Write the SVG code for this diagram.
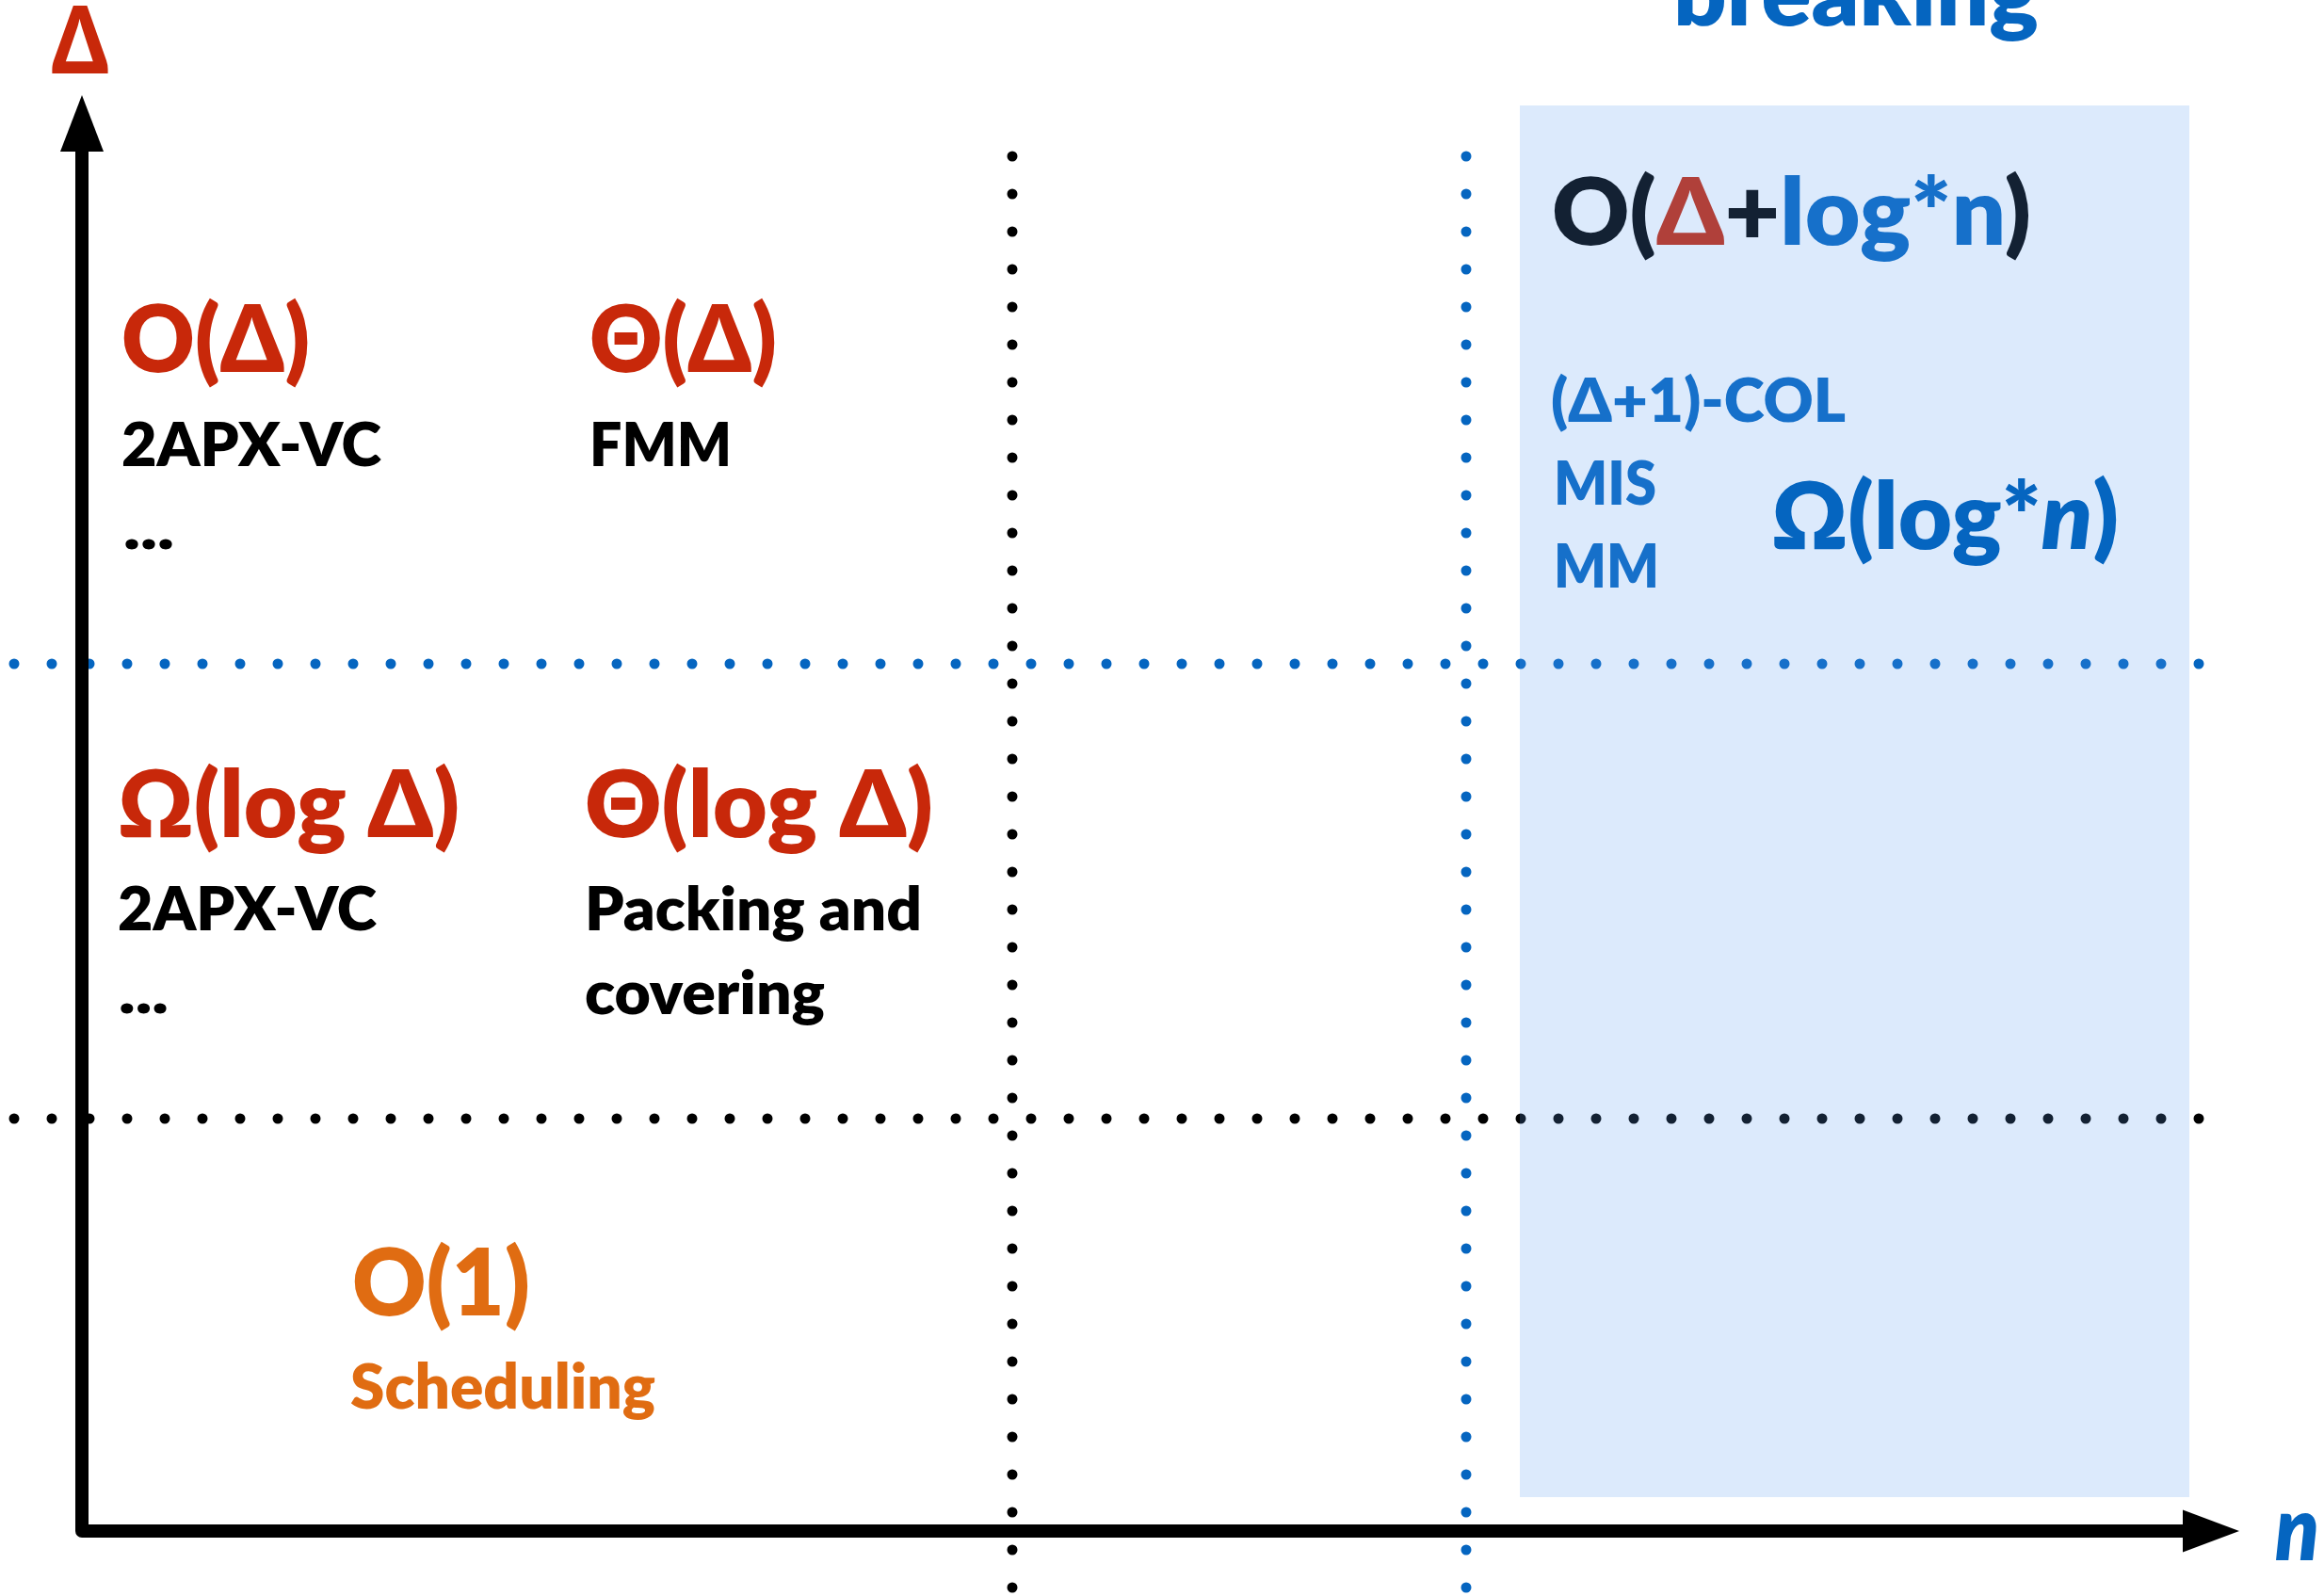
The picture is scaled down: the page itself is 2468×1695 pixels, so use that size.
<svg xmlns="http://www.w3.org/2000/svg" width="2468" height="1695" viewBox="0 0 2468 1695">
  <style>
    text { font-family: "Lato", "Noto Sans", "Open Sans", sans-serif; font-weight: 800; }
    .big { font-size: 98px; }
    .small { font-size: 65px; }
    .red { fill: #C8280A; }
    .black { fill: #000000; }
    .orange { fill: #E06C12; }
    .blue { fill: #0565C0; }
    .dots { fill: none; stroke-width: 11; stroke-linecap: round; stroke-dasharray: 0 40; }
    .dots-black { stroke: #000000; }
    .dots-blue { stroke: #0565C0; }
    .axis { fill: none; stroke: #000000; stroke-width: 14; stroke-linejoin: round; }
    .head { fill: #000000; }
  </style>

  <rect width="2468" height="1695" fill="#FFFFFF"/>

  <!-- dotted boundaries between the regimes -->
  <g id="grid">
    <path class="dots dots-black" d="M1075 166 V1690"/>
    <path class="dots dots-blue" d="M1557 166 V1690"/>
    <path class="dots dots-blue" d="M15 705 H2336"/>
    <path class="dots dots-black" d="M15 1188 H2336"/>
  </g>

  <!-- axes -->
  <g id="axes">
    <path class="axis" d="M87 160 V1626 H2320"/>
    <polygon class="head" points="87,101 110,161 64,161"/>
    <polygon class="head" points="2378,1626 2318,1603.5 2318,1648.5"/>
  </g>

  <g id="label-delta-axis">
    <text class="big red" x="55" y="78" textLength="60" lengthAdjust="spacingAndGlyphs">Δ</text>
  </g>
  <g id="label-n-axis">
    <text class="blue" x="2416" y="1657" font-size="95" font-style="italic" textLength="47" lengthAdjust="spacingAndGlyphs">n</text>
  </g>

  <!-- top row: linear in Delta -->
  <g id="cell-o-delta">
    <text class="big red" x="129" y="395" textLength="200" lengthAdjust="spacingAndGlyphs">O(Δ)</text>
    <text class="small black" x="129" y="495" textLength="276" lengthAdjust="spacingAndGlyphs">2APX-VC</text>
    <text class="small black" x="131" y="583" textLength="54" lengthAdjust="spacingAndGlyphs">...</text>
  </g>
  <g id="cell-theta-delta">
    <text class="big red" x="626" y="395" textLength="199" lengthAdjust="spacingAndGlyphs">Θ(Δ)</text>
    <text class="small black" x="626" y="495" textLength="151" lengthAdjust="spacingAndGlyphs">FMM</text>
  </g>

  <!-- middle row: logarithmic in Delta -->
  <g id="cell-omega-logdelta">
    <text class="big red" x="125" y="889" textLength="363" lengthAdjust="spacingAndGlyphs">Ω(log Δ)</text>
    <text class="small black" x="125" y="988" textLength="275" lengthAdjust="spacingAndGlyphs">2APX-VC</text>
    <text class="small black" x="126" y="1076" textLength="53" lengthAdjust="spacingAndGlyphs">...</text>
  </g>
  <g id="cell-theta-logdelta">
    <text class="big red" x="621" y="889" textLength="370" lengthAdjust="spacingAndGlyphs">Θ(log Δ)</text>
    <text class="small black" x="621" y="988" textLength="358" lengthAdjust="spacingAndGlyphs">Packing and</text>
    <text class="small black" x="621" y="1077" textLength="255" lengthAdjust="spacingAndGlyphs">covering</text>
  </g>

  <!-- bottom row: constant time -->
  <g id="cell-constant">
    <text class="big orange" x="374" y="1397" textLength="189" lengthAdjust="spacingAndGlyphs">O(1)</text>
    <text class="orange" x="372" y="1496" font-size="66" textLength="324" lengthAdjust="spacingAndGlyphs">Scheduling</text>
  </g>

  <!-- symmetry-breaking column -->
  <g id="header-breaking">
    <text class="blue" x="1777" y="27" font-size="94" textLength="388" lengthAdjust="spacingAndGlyphs">breaking</text>
  </g>
  <g id="cell-symmetry-breaking">
    <text class="big" x="1648" y="260" textLength="509" lengthAdjust="spacingAndGlyphs"><tspan class="black">O(</tspan><tspan class="red">Δ</tspan><tspan class="black">+</tspan><tspan class="blue">log*n</tspan><tspan class="black">)</tspan></text>
    <text class="small blue" x="1647" y="448" textLength="313" lengthAdjust="spacingAndGlyphs">(Δ+1)-COL</text>
    <text class="small blue" x="1650" y="536" textLength="109" lengthAdjust="spacingAndGlyphs">MIS</text>
    <text class="small blue" x="1650" y="624" textLength="112" lengthAdjust="spacingAndGlyphs">MM</text>
  </g>
  <rect id="region-symmetry-breaking" x="1614" y="112" width="711" height="1478" fill="#5A9BF0" fill-opacity="0.21"/>
  <g id="bound-omega-logstar">
    <text class="big blue" x="1881" y="583" textLength="369" lengthAdjust="spacingAndGlyphs">Ω(log*<tspan font-style="italic">n</tspan>)</text>
  </g>
</svg>
